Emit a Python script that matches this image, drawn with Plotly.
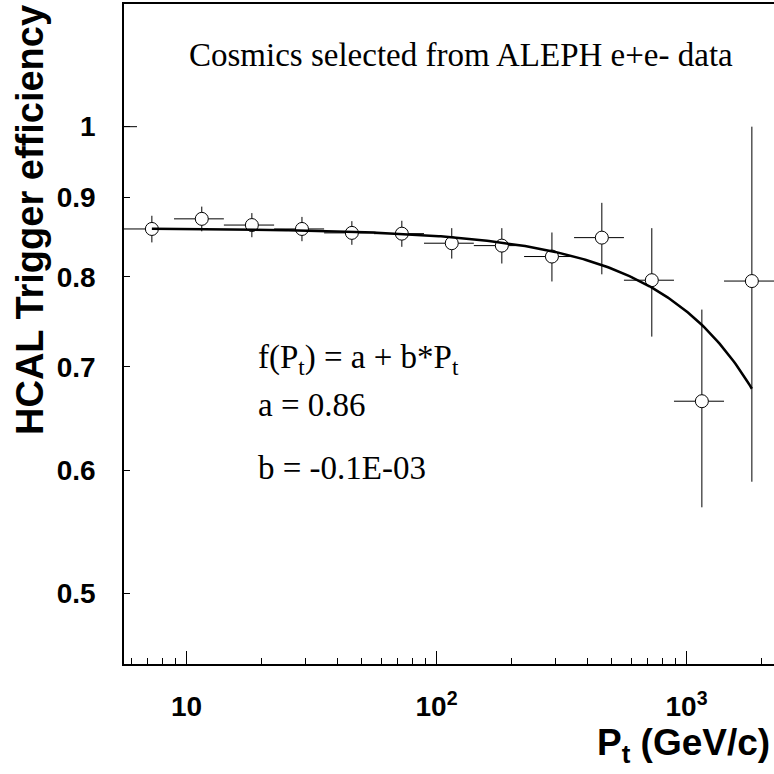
import numpy as np
import plotly.graph_objects as go

# Pt bin edges (GeV/c), logarithmic binning
bin_edges = [5.62, 8.91, 14.1, 22.4, 35.5, 56.2, 89.1, 141, 224, 355, 562, 891, 1413, 2239]
# HCAL trigger efficiency per bin and its statistical error
efficiency = [0.859, 0.872, 0.864, 0.859, 0.854, 0.853, 0.841, 0.838, 0.8245, 0.848, 0.796, 0.665, 0.795]
eff_error = [0.017, 0.016, 0.0155, 0.0155, 0.015, 0.0165, 0.019, 0.022, 0.030, 0.045, 0.064, 0.097, 0.205]

# linear fit parameters f(Pt) = a + b*Pt
fit_a = 0.86
fit_b = -0.1e-03

x_tickvals = [10, 100, 1000]
x_ticktext = ["10", "10<sup>2</sup>", "10<sup>3</sup>"]
x_minor_ticks = [6, 7, 8, 9, 20, 30, 40, 50, 60, 70, 80, 90,
                 200, 300, 400, 500, 600, 700, 800, 900, 2000]
y_tickvals = [0.5, 0.6, 0.7, 0.8, 0.9, 1.0]
y_ticktext = ["0.5", "0.6", "0.7", "0.8", "0.9", "1"]

edges = np.array(bin_edges)
centers = 0.5 * (edges[:-1] + edges[1:])
half_widths = 0.5 * (edges[1:] - edges[:-1])

x_range = [np.log10(edges[0]), np.log10(edges[-1])]
y_lo, y_hi = 0.45, 1.2
y_range = [np.log10(y_lo), np.log10(y_hi)]

W, H = 774, 774
ML, MR, MT, MB = 124, 0, 4, 110
PW, PH = W - ML - MR, H - MT - MB


def px_x(px):
    return (px - ML) / PW


def px_y(py):
    return (H - MB - py) / PH


fig = go.Figure()

fig.add_trace(go.Scatter(
    x=centers, y=efficiency, mode="markers",
    marker=dict(symbol="circle", size=13, color="white",
                line=dict(color="black", width=1)),
    error_y=dict(type="data", array=eff_error, symmetric=True,
                 color="black", thickness=1, width=0),
    error_x=dict(type="data", array=half_widths, symmetric=True,
                 color="black", thickness=1, width=0),
    showlegend=False, hoverinfo="x+y",
))

pt_fit = np.logspace(np.log10(centers[0]), np.log10(centers[-1]), 300)
fig.add_trace(go.Scatter(
    x=pt_fit, y=fit_a + fit_b * pt_fit, mode="lines",
    line=dict(color="black", width=2.5),
    showlegend=False, hoverinfo="skip",
))

axis_font = dict(family="Liberation Sans, Arial", size=28, color="black", weight="bold")

fig.update_xaxes(
    type="log", range=x_range,
    showline=True, linecolor="black", linewidth=1.5, mirror=True,
    ticks="inside", ticklen=13, tickwidth=1, tickcolor="black",
    tickvals=x_tickvals, ticktext=x_ticktext, tickfont=axis_font,
    ticklabelstandoff=17,
    minor=dict(tickmode="array", tickvals=x_minor_ticks, ticks="inside",
               ticklen=6, tickwidth=1, tickcolor="black", showgrid=False),
    showgrid=False, zeroline=False,
)
fig.update_yaxes(
    type="log", range=y_range,
    showline=True, linecolor="black", linewidth=1.5, mirror=False,
    ticks="inside", ticklen=6, tickwidth=1, tickcolor="black",
    tickvals=y_tickvals, ticktext=y_ticktext, tickfont=axis_font,
    ticklabelstandoff=21,
    showgrid=False, zeroline=False,
)

# longer major tick at efficiency = 1
y_one = (np.log10(1.0) - y_range[0]) / (y_range[1] - y_range[0])
fig.add_shape(type="line", xref="paper", yref="paper",
              x0=0, x1=13 / PW, y0=y_one, y1=y_one,
              line=dict(color="black", width=1))

serif = dict(family="Liberation Serif, Times New Roman", size=33, color="black")
title_font = dict(family="Liberation Sans, Arial", size=37, color="black", weight="bold")
ytitle_font = dict(family="Liberation Sans, Arial", size=38, color="black", weight="bold")

annotations = [
    dict(text="Cosmics selected from ALEPH e+e- data", x=px_x(187), y=px_y(55),
         xanchor="left", yanchor="middle", font=serif),
    dict(text="f(P<sub>t</sub>) = a + b*P<sub>t</sub>", x=px_x(256), y=px_y(360),
         xanchor="left", yanchor="middle", font=serif),
    dict(text="a = %.2f" % fit_a, x=px_x(256), y=px_y(405),
         xanchor="left", yanchor="middle", font=serif),
    dict(text="b = -0.1E-03", x=px_x(256), y=px_y(468),
         xanchor="left", yanchor="middle", font=serif),
    dict(text="P<sub>t</sub> (GeV/c)", x=px_x(772), y=px_y(745),
         xanchor="right", yanchor="middle", font=title_font),
    dict(text="HCAL Trigger efficiency", x=px_x(30), y=px_y(3), textangle=-90,
         xanchor="center", yanchor="top", font=ytitle_font),
]
for a in annotations:
    a.update(xref="paper", yref="paper", showarrow=False)
    fig.add_annotation(**a)

fig.update_layout(
    width=W, height=H,
    margin=dict(l=ML, r=MR, t=MT, b=MB, pad=0),
    paper_bgcolor="white", plot_bgcolor="white",
    showlegend=False,
)

fig.write_html("out.html")
